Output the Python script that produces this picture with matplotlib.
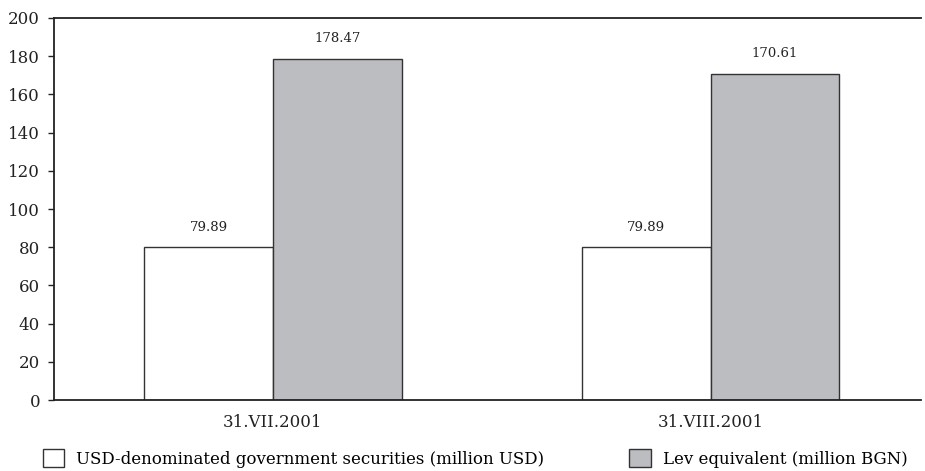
import matplotlib.pyplot as plt
import numpy as np

plt.rcParams['font.family'] = ['DejaVu Serif']

dates = ['31.VII.2001', '31.VIII.2001']
usd = [79.89, 79.89]
bgn = [178.47, 170.61]
usd_label = 'USD-denominated government securities (million USD)'
bgn_label = 'Lev equivalent (million BGN)'

fig = plt.figure(figsize=(9.25, 4.71), dpi=100)
ax = fig.add_axes([0.0584, 0.1507, 0.937, 0.8111])

x = np.arange(len(dates))
w = 0.294
b1 = ax.bar(x - w / 2, usd, w, color='white', edgecolor='#333333', linewidth=1, label=usd_label)
b2 = ax.bar(x + w / 2, bgn, w, color='#bcbdc1', edgecolor='#333333', linewidth=1, label=bgn_label)

for bars, vals in [(b1, usd), (b2, bgn)]:
    for bar, v in zip(bars, vals):
        ax.annotate('%.2f' % v, (bar.get_x() + bar.get_width() / 2, v),
                    xytext=(0, 10), textcoords='offset points',
                    ha='center', va='bottom', fontsize=9.5, color='#222222')

ax.set_xlim(-0.5, 1.48)
ax.set_ylim(0, 200)
ax.set_yticks(range(0, 201, 20))
ax.set_xticks(x)
ax.set_xticklabels(dates)
ax.tick_params(axis='x', length=0, pad=10, labelsize=12, colors='#222222')
ax.tick_params(axis='y', length=4, width=1, pad=6, labelsize=12, colors='#222222')
ax.spines['right'].set_visible(False)
for s in ['left', 'top', 'bottom']:
    ax.spines[s].set_color('#222222')
    ax.spines[s].set_linewidth(1.3)

fig.legend(handles=[b1, b2], loc='lower left', bbox_to_anchor=(0.03, -0.025),
           ncol=2, frameon=False, fontsize=12, handlelength=1.3, handleheight=1.3,
           handletextpad=0.7, columnspacing=5.1)

fig.savefig('out.png', dpi=100)
